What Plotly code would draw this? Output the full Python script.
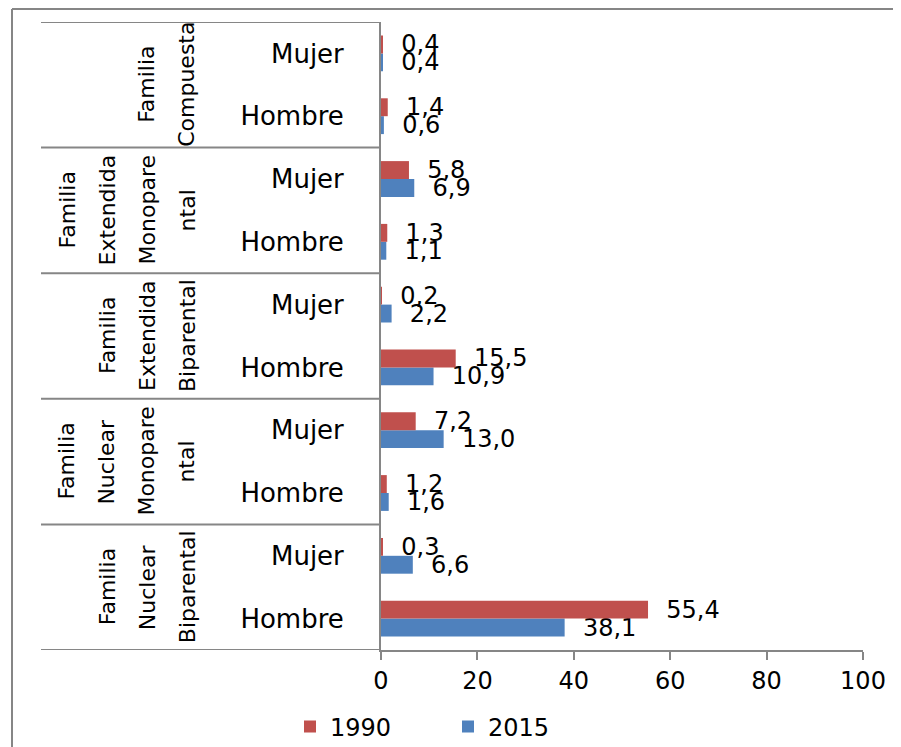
import plotly.graph_objects as go

# rows bottom to top: (group, sex)
group_lines = [
    ["Familia", "Nuclear", "Biparental"],
    ["Familia", "Nuclear", "Monopare", "ntal"],
    ["Familia", "Extendida", "Biparental"],
    ["Familia", "Extendida", "Monopare", "ntal"],
    ["Familia", "Compuesta"],
]
sexes = ["Hombre", "Mujer"]

values_1990 = [55.4, 0.3, 1.2, 7.2, 15.5, 0.2, 1.3, 5.8, 1.4, 0.4]
values_2015 = [38.1, 6.6, 1.6, 13.0, 10.9, 2.2, 1.1, 6.9, 0.6, 0.4]

x_ticks = [0, 20, 40, 60, 80, 100]

RED = "#C0504D"
BLUE = "#4F81BD"
GREY = "#868686"
FONT = "DejaVu Sans"

# the page body has an 8px margin, so the figure starts at (8, 8)
OFF = 8
W, H = 901 - OFF, 747 - OFF
# plot area in screen pixels
L, R, T, B = 381, 863, 22, 650


def px_x(X):
    """Screen pixel x to paper x."""
    return (X - L) / (R - L)


def px_y(Y):
    """Screen pixel y to paper y."""
    return (B - Y) / (B - T)


rows = [(g, s) for g in range(len(group_lines)) for s in sexes]
y_pos = list(range(len(rows)))
row_labels = [s for _, s in rows]


def fmt(v):
    return "\u00a0\u00a0" + f"{v:.1f}".replace(".", ",")


fig = go.Figure()
fig.add_trace(go.Bar(
    y=y_pos, x=values_2015, orientation="h", name="2015",
    marker=dict(color=BLUE, line=dict(width=0)),
    text=[fmt(v) for v in values_2015], textposition="outside",
    textfont=dict(family=FONT, size=24, color="black"),
    constraintext="none", cliponaxis=False,
))
fig.add_trace(go.Bar(
    y=y_pos, x=values_1990, orientation="h", name="1990",
    marker=dict(color=RED, line=dict(width=0)),
    text=[fmt(v) for v in values_1990], textposition="outside",
    textfont=dict(family=FONT, size=24, color="black"),
    constraintext="none", cliponaxis=False,
))

shapes = []
n_sex = len(sexes)
# group separators from the label column to the axis
for k in range(len(group_lines) + 1):
    yb = k * n_sex - 0.5
    shapes.append(dict(type="line", xref="paper", yref="y",
                       x0=px_x(41), x1=0, y0=yb, y1=yb,
                       line=dict(color=GREY, width=2)))
# outer chart border (top and left, rest cropped)
shapes.append(dict(type="line", xref="paper", yref="paper",
                   x0=px_x(12), x1=px_x(910), y0=px_y(9), y1=px_y(9),
                   line=dict(color=GREY, width=2)))
shapes.append(dict(type="line", xref="paper", yref="paper",
                   x0=px_x(12), x1=px_x(12), y0=px_y(9), y1=px_y(760),
                   line=dict(color=GREY, width=2)))

columns = [67, 107, 147, 187]
annotations = []
for g, lines in enumerate(group_lines):
    yc = g * n_sex + (n_sex - 1) / 2
    start = len(columns) - len(lines)
    for k, line in enumerate(lines):
        annotations.append(dict(
            text=line, xref="paper", yref="y",
            x=px_x(columns[start + k]), y=yc, textangle=-90,
            showarrow=False, xanchor="center", yanchor="middle",
            font=dict(family=FONT, size=22, color="black"),
        ))

fig.update_layout(
    width=W, height=H,
    margin=dict(l=L - OFF, r=W + OFF - R, t=T - OFF, b=H + OFF - B,
                pad=0, autoexpand=False),
    paper_bgcolor="white", plot_bgcolor="white",
    barmode="group", bargap=0.43, bargroupgap=0,
    shapes=shapes, annotations=annotations,
    font=dict(family=FONT, size=24, color="black"),
    showlegend=True,
    legend=dict(orientation="h", traceorder="reversed",
                x=px_x(290), y=px_y(727), xanchor="left", yanchor="middle",
                entrywidth=113, entrywidthmode="pixels",
                font=dict(family=FONT, size=24, color="black"),
                bgcolor="rgba(0,0,0,0)"),
    xaxis=dict(range=[0, 100], tickvals=x_ticks, showgrid=False,
               zeroline=False, showline=True, linecolor=GREY, linewidth=2,
               ticks="outside", ticklen=8, tickcolor=GREY, tickwidth=2,
               tickfont=dict(family=FONT, size=24, color="black")),
    yaxis=dict(range=[-0.5, len(rows) - 0.5], tickvals=y_pos,
               ticktext=row_labels, showgrid=False, zeroline=False,
               showline=True, linecolor=GREY, linewidth=2, ticks="",
               ticklabelstandoff=30,
               tickfont=dict(family=FONT, size=26, color="black")),
)

fig.write_html("out.html")
